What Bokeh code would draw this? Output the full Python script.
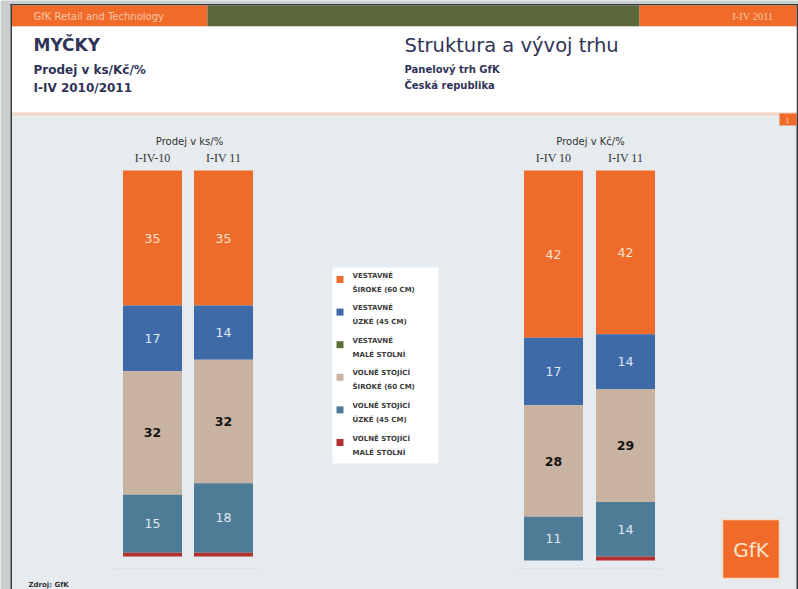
from bokeh.plotting import figure
from bokeh.models import Range1d, ColumnDataSource
from bokeh.core.properties import value
from bokeh.embed import file_html
from bokeh.resources import INLINE

# ---------------- data ----------------
segments_line1 = ["VESTAVNÉ", "VESTAVNÉ", "VESTAVNÉ", "VOLNĚ STOJÍCÍ", "VOLNĚ STOJÍCÍ", "VOLNĚ STOJÍCÍ"]
segments_line2 = ["ŠIROKÉ (60 CM)", "ÚZKÉ (45 CM)", "MALÉ STOLNÍ", "ŠIROKÉ (60 CM)", "ÚZKÉ (45 CM)", "MALÉ STOLNÍ"]
seg_colors = ["#ef6b2b", "#3f6aa8", "#5d6e34", "#c8b2a1", "#4e7c97", "#b3312e"]
seg_text_colors = ["#fde3cf", "#dfe8f6", "#ffffff", "#151515", "#e0e9ef", "#ffffff"]
seg_text_styles = ["normal", "normal", "normal", "bold", "normal", "normal"]

periods_ks = ["I-IV-10", "I-IV 11"]
periods_kc = ["I-IV 10", "I-IV 11"]
ks_10 = [35, 17, 0, 32, 15, 1]
ks_11 = [35, 14, 0, 32, 18, 1]
kc_10 = [42, 17, 0, 28, 11, 0]
kc_11 = [42, 14, 0, 29, 14, 1]
chart_titles = ["Prodej v ks/%", "Prodej v Kč/%"]

FONT = value("DejaVu Sans")
NAVY = "#2f3357"

# ---------------- figure (coordinates = page pixels) ----------------
X0, X1, Y0, Y1 = 0, 798, 0, 589
p = figure(width=X1 - X0, height=Y1 - Y0, x_range=Range1d(X0, X1), y_range=Range1d(Y1, Y0),
           output_backend="svg", toolbar_location=None, min_border=0,
           x_axis_type=None, y_axis_type=None)
p.grid.visible = False
p.outline_line_color = None
p.background_fill_color = "#e5ebee"
p.border_fill_color = "#e5ebee"

def pct_range(base_px, top_px):
    per = 100.0 / (base_px - top_px)
    return Range1d((base_px - Y1) * per, (base_px - Y0) * per)

p.extra_y_ranges = {"pl": pct_range(556, 170), "pr": pct_range(560, 170)}

# outer frame
p.quad(left=[X0], right=[10], top=[Y0], bottom=[Y1], fill_color="#c9cecf", line_color=None)
p.quad(left=[X0], right=[X1], top=[Y0], bottom=[3.5], fill_color="#c9cecf", line_color=None)
p.quad(left=[10], right=[11.5], top=[3.5], bottom=[Y1], fill_color="#3a3a3a", line_color=None)
p.quad(left=[10], right=[X1], top=[3.5], bottom=[5], fill_color="#3a3a3a", line_color=None)
p.quad(left=[796], right=[X1], top=[3.5], bottom=[Y1], fill_color="#3a3a3a", line_color=None)

# header
p.quad(left=[11.5], right=[207], top=[5], bottom=[26], fill_color="#f06a2a", line_color=None)
p.quad(left=[207], right=[639], top=[5], bottom=[26], fill_color="#5b683c", line_color=None)
p.quad(left=[639], right=[796], top=[5], bottom=[26], fill_color="#f06a2a", line_color=None)
p.quad(left=[11.5], right=[796], top=[26], bottom=[112], fill_color="#ffffff", line_color=None)
p.quad(left=[11.5], right=[796], top=[112], bottom=[115], fill_color="#f3d6c2", line_color=None)
p.quad(left=[779], right=[796], top=[113], bottom=[125], fill_color="#f06a2a", line_color=None)
p.text(x=[787], y=[119], text=["1"], text_font=FONT, text_font_size="7px",
       text_color="#fbd3b6", text_align="center", text_baseline="middle")

p.text(x=[33], y=[15.5], text=["GfK Retail and Technology"], text_font=FONT, text_font_size="10px",
       text_color="#f9c9a6", text_baseline="middle")
p.text(x=[773], y=[15.5], text=["I-IV 2011"], text_font=value("Liberation Serif"), text_font_size="10.5px",
       text_color="#f9c9a6", text_align="right", text_baseline="middle")

p.text(x=[33], y=[44], text=["MYČKY"], text_font=FONT, text_font_size="17px", text_font_style="bold",
       text_color=NAVY, text_baseline="middle")
p.text(x=[33], y=[69], text=["Prodej v ks/Kč/%"], text_font=FONT, text_font_size="12px",
       text_font_style="bold", text_color=NAVY, text_baseline="middle")
p.text(x=[33], y=[87], text=["I-IV 2010/2011"], text_font=FONT, text_font_size="12px",
       text_font_style="bold", text_color=NAVY, text_baseline="middle")

p.text(x=[404], y=[45], text=["Struktura a vývoj trhu"], text_font=FONT, text_font_size="19.5px",
       text_color=NAVY, text_baseline="middle")
p.text(x=[404], y=[69], text=["Panelový trh GfK"], text_font=FONT, text_font_size="10px",
       text_font_style="bold", text_color=NAVY, text_baseline="middle")
p.text(x=[404], y=[85], text=["Česká republika"], text_font=FONT, text_font_size="10px",
       text_font_style="bold", text_color=NAVY, text_baseline="middle")

# ---------------- stacked bars ----------------
BAR_W = 59
charts = [
    dict(rng="pl", xs=[152, 223], periods=periods_ks, series=[ks_10, ks_11], title=chart_titles[0], tx=189),
    dict(rng="pr", xs=[553, 625], periods=periods_kc, series=[kc_10, kc_11], title=chart_titles[1], tx=590),
]

for ch in charts:
    seg = dict(x=[], top=[], bottom=[], color=[], mid=[], label=[], tcolor=[], tstyle=[])
    for xc, vals in zip(ch["xs"], ch["series"]):
        total = float(sum(vals))
        shares = [v / total * 100 for v in vals]
        top = 100.0
        for i, (v, s) in enumerate(zip(vals, shares)):
            bottom = top - s
            if s > 0:
                seg["x"].append(xc)
                seg["top"].append(top)
                seg["bottom"].append(bottom)
                seg["color"].append(seg_colors[i])
                seg["mid"].append((top + bottom) / 2)
                seg["label"].append(str(v) if v >= 5 else "")
                seg["tcolor"].append(seg_text_colors[i])
                seg["tstyle"].append(seg_text_styles[i])
            top = bottom
    src = ColumnDataSource(seg)
    p.vbar(x="x", top="top", bottom="bottom", width=BAR_W, fill_color="color", line_color=None,
           source=src, y_range_name=ch["rng"])
    p.text(x="x", y="mid", text="label", text_color="tcolor", text_font_style="tstyle", source=src,
           y_range_name=ch["rng"], text_font=FONT, text_font_size="12.5px",
           text_align="center", text_baseline="middle")
    p.text(x=[ch["tx"]], y=[141], text=[ch["title"]], text_font=FONT, text_font_size="10px",
           text_color="#333333", text_align="center", text_baseline="middle")
    p.text(x=ch["xs"], y=[157, 157], text=ch["periods"], text_font=value("Liberation Serif"),
           text_font_size="12px", text_color="#333333", text_align="center", text_baseline="middle")
    p.segment(x0=[ch["xs"][0] - 38], x1=[ch["xs"][1] + 38], y0=[568], y1=[568],
              line_color="#d5dde1", line_width=1, line_dash="2 2")

# ---------------- legend ----------------
p.quad(left=[332], right=[438], top=[267], bottom=[463], fill_color="#ffffff", line_color=None)
n = len(seg_colors)
step = 32.6
leg_y = [279 + i * step for i in range(n)]
p.rect(x=[339.5] * n, y=leg_y, width=7, height=7, fill_color=seg_colors, line_color=None)
p.text(x=[352] * n, y=[yy - 4 for yy in leg_y], text=segments_line1, text_font=FONT,
       text_font_size="7px", text_font_style="bold", text_color="#3a3a3a", text_baseline="middle")
p.text(x=[352] * n, y=[yy + 10 for yy in leg_y], text=segments_line2, text_font=FONT,
       text_font_size="7px", text_font_style="bold", text_color="#3a3a3a", text_baseline="middle")

# ---------------- GfK logo & source ----------------
p.quad(left=[722], right=[779], top=[519], bottom=[578], fill_color="#f06a2a", line_color="#f7dcc8", line_width=1.5)
p.text(x=[750.5], y=[549], text=["GfK"], text_font=FONT, text_font_size="20px",
       text_color="#fde2cb", text_align="center", text_baseline="middle")
p.text(x=[28], y=[584], text=["Zdroj: GfK"], text_font=FONT, text_font_size="7px",
       text_font_style="bold", text_color="#333333", text_baseline="middle")

open("out.html", "w").write(file_html(p, INLINE))
